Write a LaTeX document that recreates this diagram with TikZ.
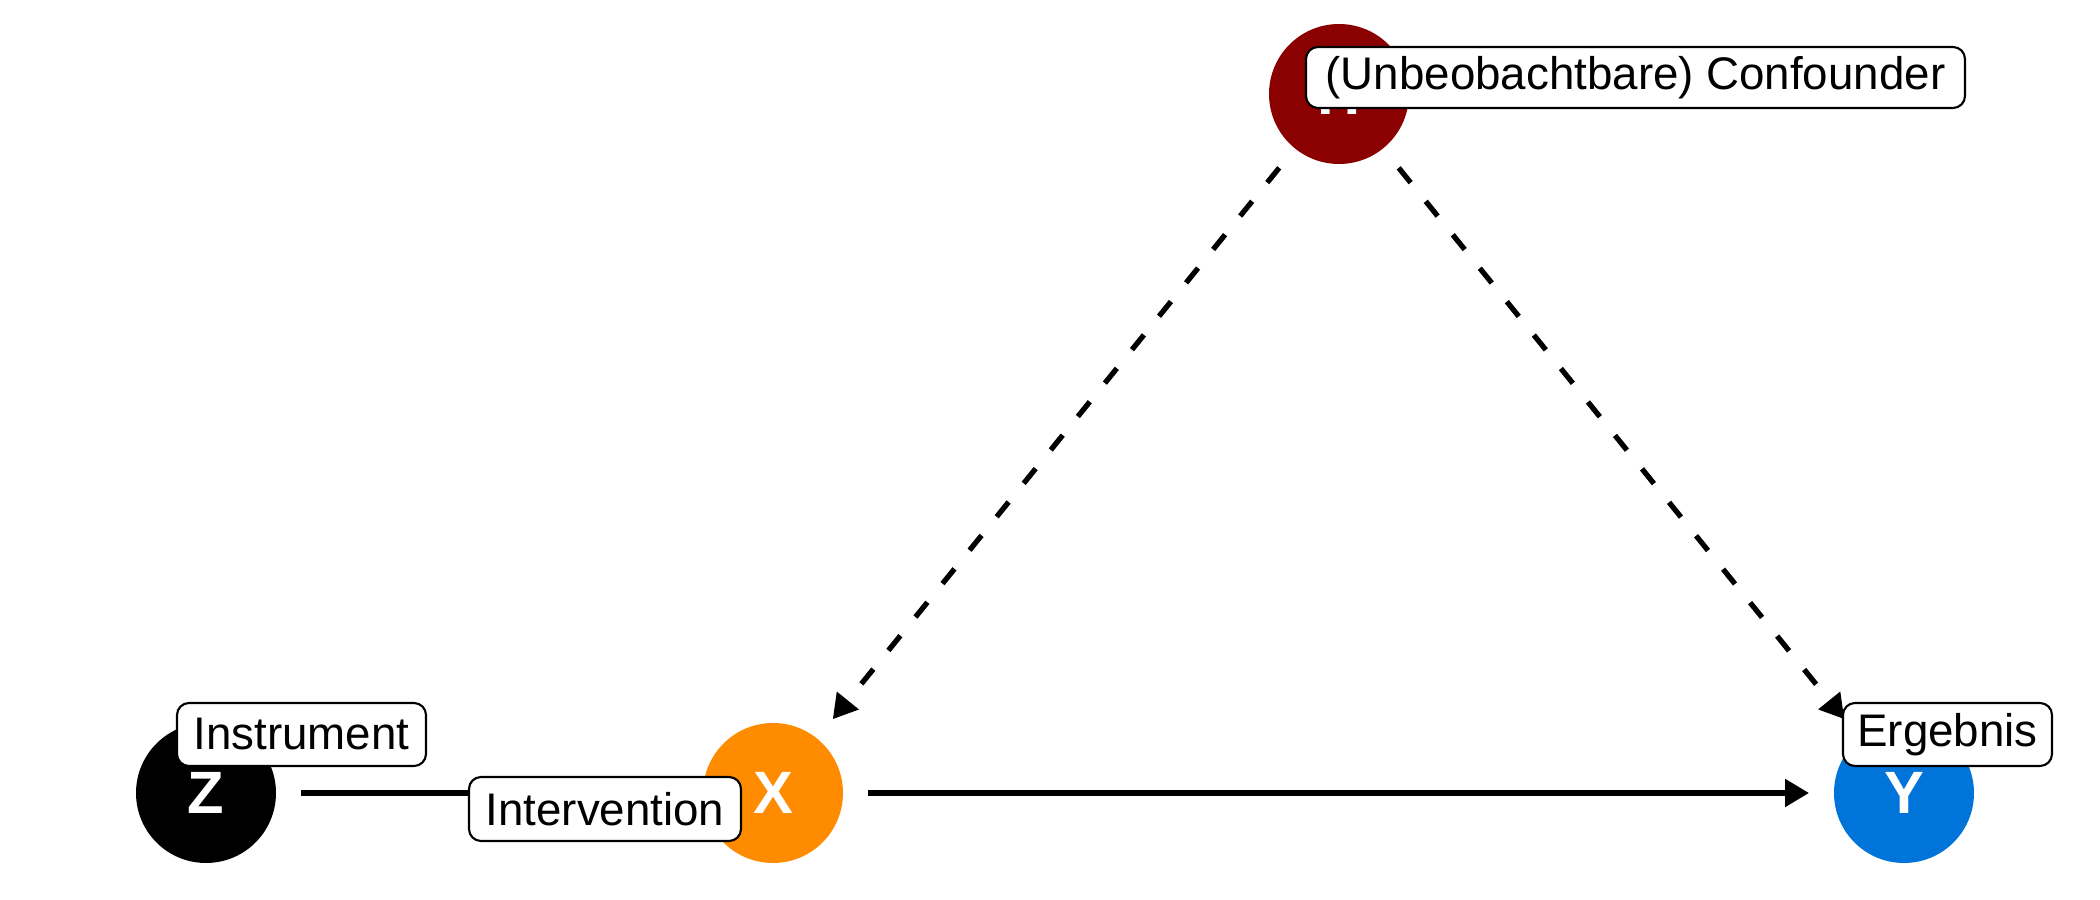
\documentclass[tikz,border=0pt]{standalone}
\usepackage{fontspec}
\setmainfont{Liberation Sans}
\usetikzlibrary{arrows.meta}
\definecolor{ucol}{HTML}{8B0000}
\definecolor{xcol}{HTML}{FF8C00}
\definecolor{ycol}{HTML}{0074D9}
\tikzset{
  dagnode/.style={circle, minimum size=1.40cm, inner sep=0pt, outer sep=0pt, text=white, font=\fontsize{17}{17}\selectfont\bfseries},
  edge/.style={line width=1.5pt, -{Triangle[length=0.24cm, width=0.27cm]}, shorten >=0.25cm, shorten <=0.25cm},
  dashededge/.style={edge, dash pattern=on 0.19cm off 0.24cm},
  lab/.style={draw=black, fill=white, line width=0.6pt, rounded corners=0.12cm, inner xsep=0.1cm, inner ysep=0pt, font=\fontsize{13}{13}\selectfont, text=black}
}
\begin{document}
\begin{tikzpicture}
\useasboundingbox (0,0) rectangle (21,9);
\node[dagnode, fill=ucol] (U) at (13.39,8.06) {H};
\node[dagnode, fill=black] (Z) at (2.06,1.07) {Z};
\node[dagnode, fill=xcol] (X) at (7.73,1.07) {X};
\node[dagnode, fill=ycol] (Y) at (19.04,1.07) {Y};
\draw[edge] (Z) -- (X);
\draw[edge] (X) -- (Y);
\draw[dashededge] (U) -- (X);
\draw[dashededge] (U) -- (Y);
\node[lab, minimum width=6.59cm, minimum height=0.61cm] (lU) at (16.355,8.225) {(Unbeobachtbare) Confounder};
\node[lab, minimum width=2.49cm, minimum height=0.63cm] (lZ) at (3.015,1.655) {Instrument};
\node[lab, minimum width=2.72cm, minimum height=0.64cm] (lX) at (6.05,0.91) {Intervention};
\node[lab, minimum width=2.09cm, minimum height=0.63cm] (lY) at (19.475,1.655) {Ergebnis};
\end{tikzpicture}
\end{document}
